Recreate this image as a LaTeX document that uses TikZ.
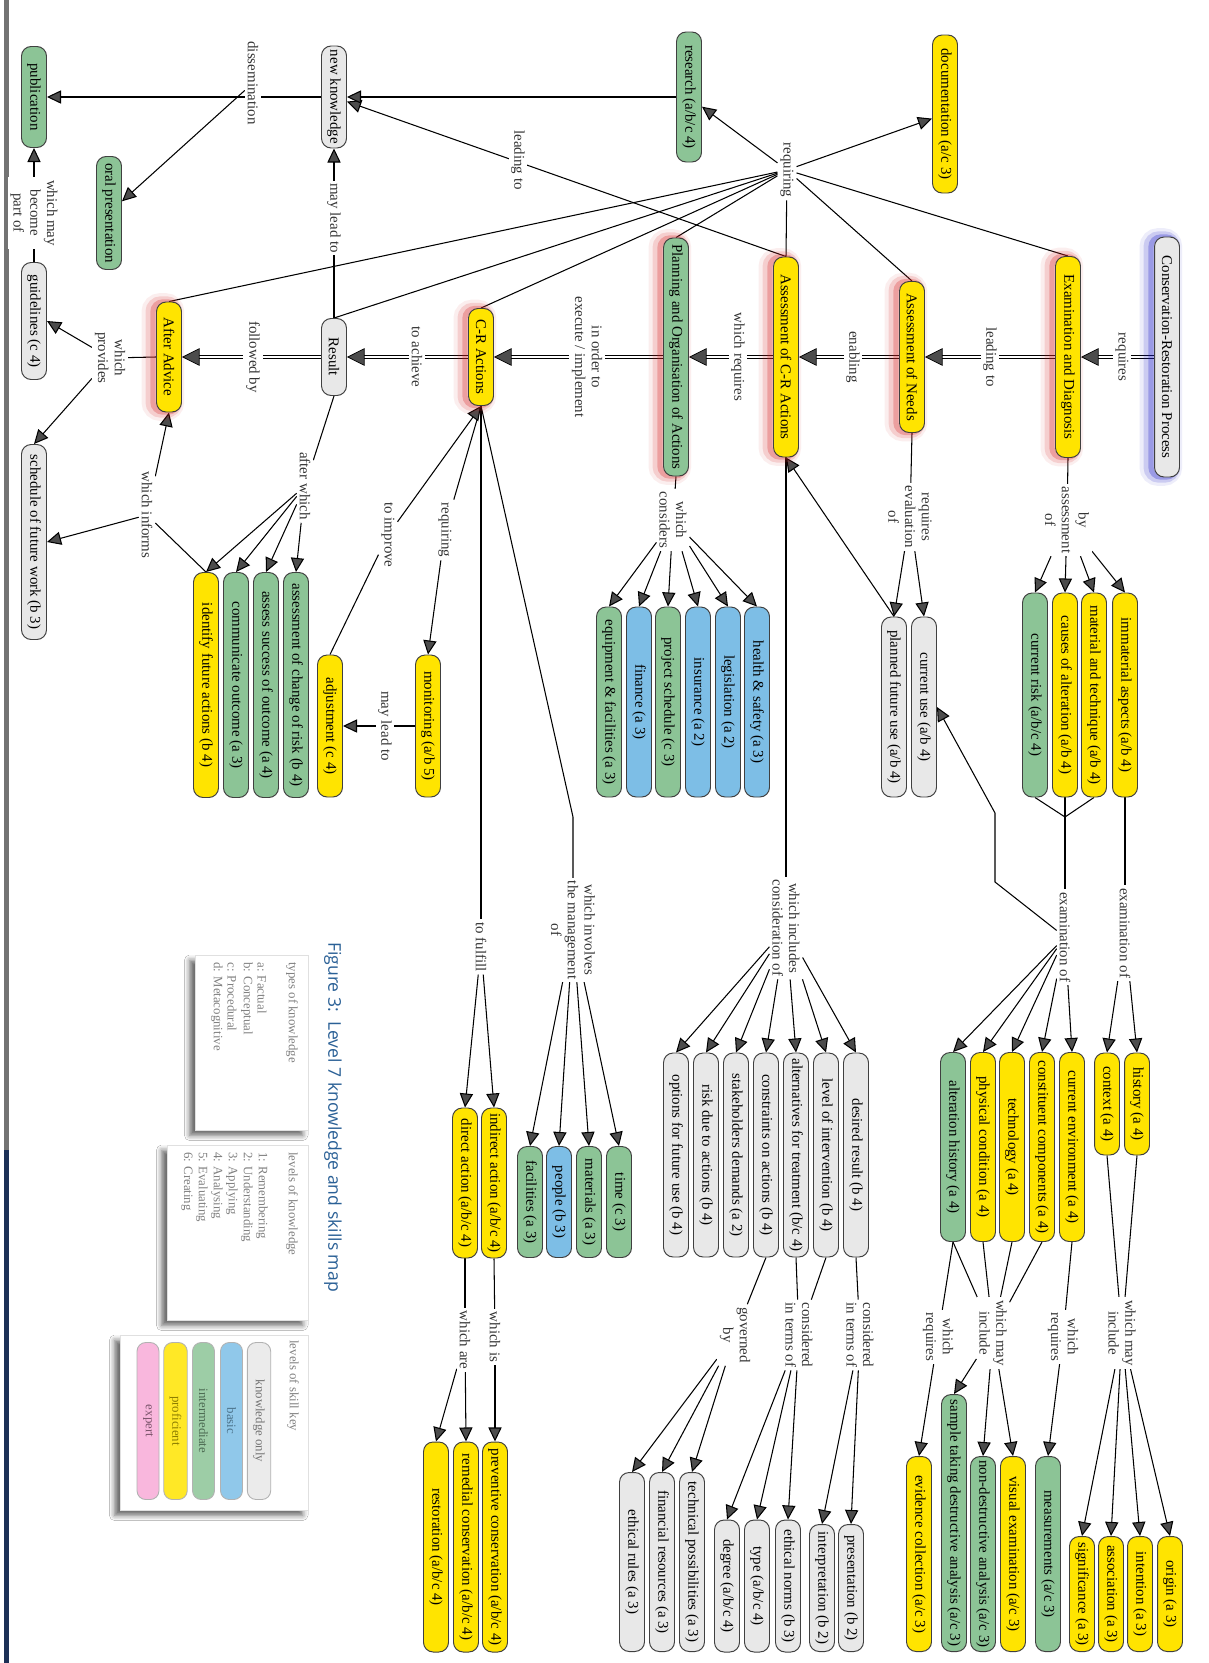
\documentclass[tikz,border=0pt]{standalone}
\usepackage{fontspec}
\setmainfont{Liberation Serif}
\newfontfamily\titlefont{Open Sans}
\usetikzlibrary{arrows.meta, backgrounds, decorations.markings, shadows.blur}
\definecolor{pillgray}{RGB}{232,232,232}
\definecolor{pillyellow}{RGB}{255,228,0}
\definecolor{pillgreen}{RGB}{140,196,150}
\definecolor{pillblue}{RGB}{125,190,230}
\definecolor{pillpink}{RGB}{248,170,215}
\definecolor{glowred}{RGB}{215,40,40}
\definecolor{glowblue}{RGB}{30,30,200}
\definecolor{titleblue}{RGB}{42,96,150}
\definecolor{barnavy}{RGB}{28,48,86}
\newcommand{\pillfont}{\fontsize{8.5}{9.5}\selectfont}
\newcommand{\keyfont}{\fontsize{7.3}{8.6}\selectfont}

\tikzset{
  pill/.style={draw=black!75, fill=pillgray, line width=0.55pt, rounded corners=5.5pt, rotate=-90,
    minimum height=0.5cm, inner sep=1pt, font=\pillfont},
  len/.style={minimum width=#1*0.02cm},
  glow/.style={preaction={draw=#1, draw opacity=0.08, line width=10pt, transform canvas={xshift=-3.5pt}},
    preaction={draw=#1, draw opacity=0.16, line width=6.5pt, transform canvas={xshift=-3pt}},
    preaction={draw=#1, draw opacity=0.28, line width=3pt, transform canvas={xshift=-2pt}}},
  lbl/.style={rotate=-90, fill=white, inner sep=1.5pt, align=center, font=\pillfont, text=black!80},
  link/.style={line width=0.6pt},
  arr/.style={link, -{Triangle[length=8pt,width=7.5pt]}},
  chain/.style={line width=2.4pt, shorten >=8pt, postaction={draw=white, line width=1pt},
    postaction={decorate}, decoration={markings, mark=at position 1 with {\arrow[line width=0.4pt]{Triangle[length=10pt,width=10pt]}}}},
  keybox/.style={fill=white, draw=black!12, line width=0.4pt,
    blur shadow={shadow xshift=-3pt, shadow yshift=-3pt, shadow blur radius=3pt, shadow opacity=60}},
  keytxt/.style={rotate=-90, anchor=west, inner sep=0pt, font=\keyfont, text=black!50},
  keypill/.style={rotate=-90, rounded corners=5pt, draw=black!30, line width=0.5pt,
    minimum height=22*0.02cm, minimum width=157*0.02cm, font=\keyfont},
}

\begin{document}
\begin{tikzpicture}[x=0.02cm, y=-0.02cm]
\useasboundingbox (0,0) rectangle (1208,1663);

% page edge
\fill[black!55] (4,0) rectangle (9,1150);
\fill[barnavy] (4,1150) rectangle (9,1663);

% main process
\node[pill, glow=glowblue, len=240] (proc) at (1167,357) {Conservation-Restoration Process};
\node[pill, fill=pillyellow, glow=glowred, len=201] (exam) at (1068,357) {Examination and Diagnosis};
\node[pill, fill=pillyellow, glow=glowred, len=151] (needs) at (912,357) {Assessment of Needs};
\node[pill, fill=pillyellow, glow=glowred, len=200] (acr) at (786,357) {Assessment of C-R Actions};
\node[pill, fill=pillgreen, glow=glowred, len=238] (plan) at (676,357) {Planning and Organisation of Actions};
\node[pill, fill=pillyellow, glow=glowred, len=97] (cra) at (481,357) {C-R Actions};
\node[pill, len=77] (result) at (334,357) {Result};
\node[pill, fill=pillyellow, glow=glowred, len=110] (after) at (169,357) {After Advice};

% top row
\node[pill, fill=pillyellow, len=158] (doc) at (945,114) {documentation (a/c 3)};
\node[pill, fill=pillgreen, len=130] (research) at (689,97) {research (a/b/c 4)};
\node[pill, len=102] (newk) at (334,97) {new knowledge};
\node[pill, fill=pillgreen, len=101] (pub) at (34,97) {publication};
\node[pill, fill=pillgreen, len=113] (oral) at (109,213) {oral presentation};
\node[pill, len=117] (guide) at (34,321) {guidelines (c 4)};
\node[pill, len=195] (sched) at (34,542) {schedule of future work (b 3)};

% middle groups
\foreach \n/\x/\col/\txt in {risk/1035/pillgreen/{current risk (a/b/c 4)},
    causes/1065/pillyellow/{causes of alteration (a/b 4)},
    mat/1094/pillyellow/{material and technique (a/b 4)},
    immat/1125/pillyellow/{immaterial aspects (a/b 4)}}
  \node[pill, fill=\col, len=204] (\n) at (\x,695) {\txt};
\node[pill, len=180] (cu) at (924,707) {current use (a/b 4)};
\node[pill, len=180] (pfu) at (894,707) {planned future use (a/b 4)};
\foreach \n/\x/\col/\txt in {eqf/609/pillgreen/{equipment \& facilities (a 3)},
    fin/639/pillblue/{finance (a 3)},
    psched/668/pillgreen/{project schedule (c 3)},
    ins/698/pillblue/{insurance (a 2)},
    legis/728/pillblue/{legislation (a 2)},
    hs/757/pillblue/{health \& safety (a 3)}}
  \node[pill, fill=\col, len=190] (\n) at (\x,702) {\txt};
\node[pill, fill=pillyellow, len=142] (mon) at (428,726) {monitoring (a/b 5)};
\node[pill, fill=pillyellow, len=142] (adj) at (330,726) {adjustment (c 4)};
\foreach \n/\x/\col/\txt in {chrisk/296/pillgreen/{assessment of change of risk (b 4)},
    succ/266/pillgreen/{assess success of outcome (a 4)},
    comm/236/pillgreen/{communicate outcome (a 3)},
    ident/206/pillyellow/{identify future actions (b 4)}}
  \node[pill, fill=\col, len=225] (\n) at (\x,685) {\txt};

% lower groups
\foreach \n/\x/\txt in {opt/676/{options for future use (b 4)},
    riskdue/706/{risk due to actions (b 4)},
    stake/736/{stakeholders demands (a 2)},
    constr/766/{constraints on actions (b 4)},
    alttreat/796/{alternatives for treatment (b/c 4)},
    lvl/826/{level of intervention (b 4)},
    desired/856/{desired result (b 4)}}
  \node[pill, len=204] (\n) at (\x,1155) {\txt};
\foreach \n/\x/\col/\txt in {alt/953/pillgreen/{alteration history (a 4)},
    phys/983/pillyellow/{physical condition (a 4)},
    tech/1012/pillyellow/{technology (a 4)},
    ccomp/1042/pillyellow/{constituent components (a 4)},
    cenv/1072/pillyellow/{current environment (a 4)}}
  \node[pill, fill=\col, len=189] (\n) at (\x,1147) {\txt};
\node[pill, fill=pillyellow, len=102] (ctx) at (1107,1104) {context (a 4)};
\node[pill, fill=pillyellow, len=102] (hist) at (1137,1104) {history (a 4)};
\foreach \n/\x/\col/\txt in {fac/530/pillgreen/{facilities (a 3)},
    people/559/pillblue/{people (b 3)},
    mats/589/pillgreen/{materials (a 3)},
    time/619/pillgreen/{time (c 3)}}
  \node[pill, fill=\col, len=111] (\n) at (\x,1202) {\txt};
\node[pill, fill=pillyellow, len=150] (direct) at (465,1183) {direct action (a/b/c 4)};
\node[pill, fill=pillyellow, len=150] (indirect) at (494,1183) {indirect action (a/b/c 4)};

% bottom row
\foreach \n/\x/\txt in {restor/436/{restoration (a/b/c 4)},
    remed/466/{remedial conservation (a/b/c 4)},
    prev/495/{preventive conservation (a/b/c 4)}}
  \node[pill, fill=pillyellow, len=210] (\n) at (\x,1547) {\txt};
\foreach \n/\x/\txt in {ethrules/632/{ethical rules (a 3)},
    finres/662/{financial resources (a 3)},
    techposs/692/{technical possibilities (a 3)}}
  \node[pill, len=179] (\n) at (\x,1562) {\txt};
\foreach \n/\x/\txt in {degree/727/{degree (a/b/c 4)},
    type/757/{type (a/b/c 4)},
    ethnorms/788/{ethical norms (b 3)}}
  \node[pill, len=132] (\n) at (\x,1586) {\txt};
\node[pill, len=127] (interp) at (822,1588) {interpretation (b 2)};
\node[pill, len=127] (pres) at (851,1588) {presentation (b 2)};
\node[pill, fill=pillyellow, len=195] (evid) at (919,1554) {evidence collection (a/c 3)};
\node[pill, fill=pillgreen, len=257] (sample) at (954,1523) {sample taking destructive analysis (a/c 3)};
\node[pill, fill=pillgreen, len=195] (nondest) at (983,1554) {non-destructive analysis (a/c 3)};
\node[pill, fill=pillyellow, len=195] (visual) at (1013,1554) {visual examination (a/c 3)};
\node[pill, fill=pillgreen, len=195] (meas) at (1048,1554) {measurements (a/c 3)};
\foreach \n/\x/\txt in {signif/1082/{significance (a 3)},
    assoc/1111/{association (a 3)},
    intent/1140/{intention (a 3)},
    origin/1170/{origin (a 3)}}
  \node[pill, fill=pillyellow, len=115] (\n) at (\x,1594) {\txt};

% labels on the main chain
\node[lbl] (lreq) at (1122,357) {requires};
\node[lbl] (llead) at (990,357) {leading to};
\node[lbl] (lenab) at (853,357) {enabling};
\node[lbl] (lwr) at (738,357) {which requires};
\node[lbl] (lord) at (587,357) {in order to\\execute / implement};
\node[lbl] (lach) at (417,357) {to achieve};
\node[lbl] (lfol) at (253,357) {followed by};

% other labels
\node[lbl] (rq) at (787,170) {requiring};
\node[lbl] (lt2) at (518,160) {leading to};
\node[lbl] (dis) at (253,83) {dissemination};
\node[lbl] (ml) at (334,218) {may lead to};
\node[lbl] (bec) at (34,213) {which may\\become\\part of};
\node[lbl] (prov) at (110,358) {which\\provides};
\node[lbl] (inf) at (147,515) {which informs};
\node[lbl] (aw) at (305,486) {after which};
\node[lbl] (imp) at (388,535) {to improve};
\node[lbl] (rq2) at (445,530) {requiring};
\node[lbl] (ml2) at (385,726) {may lead to};
\node[lbl] (cons) at (673,520) {which\\considers};
\node[lbl] (reqev) at (910,517) {requires\\evaluation\\of};
\node[lbl] (byas) at (1067,520) {by\\assessment\\of};
\node[lbl] (incl) at (786,928) {which includes\\consideration of};
\node[lbl] (inv) at (573,930) {which involves\\the management\\of};
\node[lbl] (ful) at (481,947) {to fulfill};
\node[lbl] (ware) at (465,1340) {which are};
\node[lbl] (wis) at (495,1337) {which is};
\node[lbl] (gov) at (735,1335) {governed\\by};
\node[lbl] (terms1) at (799,1335) {considered\\in terms of};
\node[lbl] (terms2) at (860,1335) {considered\\in terms of};
\node[lbl] (wr3) at (938,1337) {which\\requires};
\node[lbl] (mi1) at (993,1333) {which may\\include};
\node[lbl] (wr4) at (1063,1337) {which\\requires};
\node[lbl] (mi2) at (1122,1333) {which may\\include};
\node[lbl] (ex1) at (1125,933) {examination of};
\node[lbl] (ex2) at (1065,937) {examination of};

\coordinate (kneeinv) at (573,817);
\coordinate (jct) at (1065,817);
\coordinate (benda) at (995,882);
\coordinate (bendb) at (995,813);

% title and keys
\node[rotate=-90, font=\titlefont\fontsize{10}{12}\selectfont, text=titleblue] (title) at (333,1117)
  {Figure 3:\ \ Level 7 knowledge and skills map};
\path[keybox] (195,955) rectangle (308,1130);
\path[keybox] (167,1145) rectangle (308,1320);
\path[keybox] (120,1335) rectangle (308,1510);
\node[keytxt] at (292,962) {types of knowledge};
\foreach \i/\txt in {0/a: Factual, 1/b: Conceptual, 2/c: Procedural, 3/d: Metacognitive}
  \node[keytxt] at (262-15*\i,962) {\txt};
\node[keytxt] at (292,1152) {levels of knowledge};
\foreach \i/\txt in {0/1: Remembering, 1/2: Understanding, 2/3: Applying, 3/4: Analysing, 4/5: Evaluating, 5/6: Creating}
  \node[keytxt] at (262-15*\i,1152) {\txt};
\node[keytxt] at (293,1340) {levels of skill key};
\foreach \x/\col/\tcol/\txt in {259/pillgray/black!55/knowledge only,
    231.5/pillblue/pillblue!60!black/basic,
    203.5/pillgreen/pillgreen!55!black/intermediate,
    175.5/pillyellow/pillyellow!55!black/proficient,
    148/pillpink/pillpink!50!black/expert}
  \node[keypill, fill=\col!85, text=\tcol] at (\x,1421) {\txt};

\begin{scope}[on background layer]
  \fill[white] (0,0) rectangle (1208,1663);
  % main chain
  \draw[chain] (proc) -- (exam);
  \draw[chain] (exam) -- (needs);
  \draw[chain] (needs) -- (acr);
  \draw[chain] (acr) -- (plan);
  \draw[chain] (plan) -- (cra);
  \draw[chain] (cra) -- (result);
  \draw[chain] (result) -- (after);
  % requiring hub
  \foreach \n in {exam,needs,acr,plan,cra,result,after}
    \draw[link] (\n.west) -- (rq);
  \draw[arr] (rq) -- (research);
  \draw[arr] (rq) -- (doc);
  % new knowledge and after advice
  \draw[arr] (acr.west) -- (newk);
  \draw[arr] (research) -- (newk);
  \draw[arr] (newk) -- (pub);
  \draw[arr] (dis) -- (oral);
  \draw[arr] (result.west) -- (newk.east);
  \draw[arr] (guide.west) -- (pub.east);
  \draw[link] (after.south) -- (prov);
  \draw[arr] (prov) -- (guide.north);
  \draw[arr] (prov) -- (sched.west);
  \draw[link] (ident.west) -- (inf);
  \draw[arr] (inf) -- (after.east);
  \draw[arr] (inf) -- (sched.north);
  \draw[link] (result.east) -- (aw);
  \foreach \n in {chrisk,succ,comm,ident}
    \draw[arr] (aw) -- (\n.west);
  % C-R actions
  \draw[link] (cra.east) -- (rq2);
  \draw[arr] (rq2) -- (mon.west);
  \draw[arr] (mon.south) -- (adj.north);
  \draw[arr] (adj.west) -- (imp) -- (cra.east);
  \draw[link] (cra.east) -- (kneeinv) -- (inv);
  \foreach \n in {fac,people,mats,time}
    \draw[arr] (inv) -- (\n.west);
  \draw[link] (cra.east) -- (ful);
  \foreach \n in {direct,indirect}
    \draw[arr] (ful) -- (\n.west);
  \draw[link] (direct.east) -- (ware);
  \foreach \n in {remed,restor}
    \draw[arr] (ware) -- (\n.west);
  \draw[link] (indirect.east) -- (wis);
  \draw[arr] (wis) -- (prev.west);
  % planning
  \draw[link] (plan.east) -- (cons);
  \foreach \n in {eqf,fin,psched,ins,legis,hs}
    \draw[arr] (cons) -- (\n.west);
  % assessment of C-R actions
  \draw[link] (acr.east) -- (incl);
  \foreach \n in {opt,riskdue,stake,constr,alttreat,lvl,desired}
    \draw[arr] (incl) -- (\n.west);
  \draw[link] (constr.east) -- (gov);
  \foreach \n in {techposs,finres,ethrules}
    \draw[arr] (gov) -- (\n.west);
  \draw[link] (alttreat.east) -- (terms1);
  \draw[link] (lvl.east) -- (terms1);
  \foreach \n in {degree,type,ethnorms}
    \draw[arr] (terms1) -- (\n.west);
  \draw[link] (desired.east) -- (terms2);
  \foreach \n in {interp,pres}
    \draw[arr] (terms2) -- (\n.west);
  % needs
  \draw[link] (needs.east) -- (reqev);
  \draw[arr] (reqev) -- (cu.west);
  \draw[arr] (reqev) -- (pfu.west);
  \draw[arr] (pfu.west) -- (acr.east);
  % examination
  \draw[link] (exam.east) -- (byas);
  \foreach \n in {risk,causes,mat,immat}
    \draw[arr] (byas) -- (\n.west);
  \foreach \n in {risk,causes,mat}
    \draw[link] (\n.east) -- (jct);
  \draw[link] (jct) -- (ex2);
  \draw[link] (immat.east) -- (ex1);
  \foreach \n in {hist,ctx}
    \draw[arr] (ex1) -- (\n.west);
  \foreach \n in {cenv,ccomp,tech,phys,alt}
    \draw[arr] (ex2) -- (\n.west);
  \draw[arr] (ex2) -- (benda) -- (bendb) -- (cu.north);
  \draw[link] (alt.east) -- (wr3);
  \draw[arr] (wr3) -- (evid.west);
  \foreach \n in {alt,phys,tech,ccomp}
    \draw[link] (\n.east) -- (mi1);
  \foreach \n in {sample,nondest,visual}
    \draw[arr] (mi1) -- (\n.west);
  \draw[link] (cenv.east) -- (wr4);
  \draw[arr] (wr4) -- (meas.west);
  \foreach \n in {ctx,hist}
    \draw[link] (\n.east) -- (mi2);
  \foreach \n in {signif,assoc,intent,origin}
    \draw[arr] (mi2) -- (\n.west);
\end{scope}
\end{tikzpicture}
\end{document}
